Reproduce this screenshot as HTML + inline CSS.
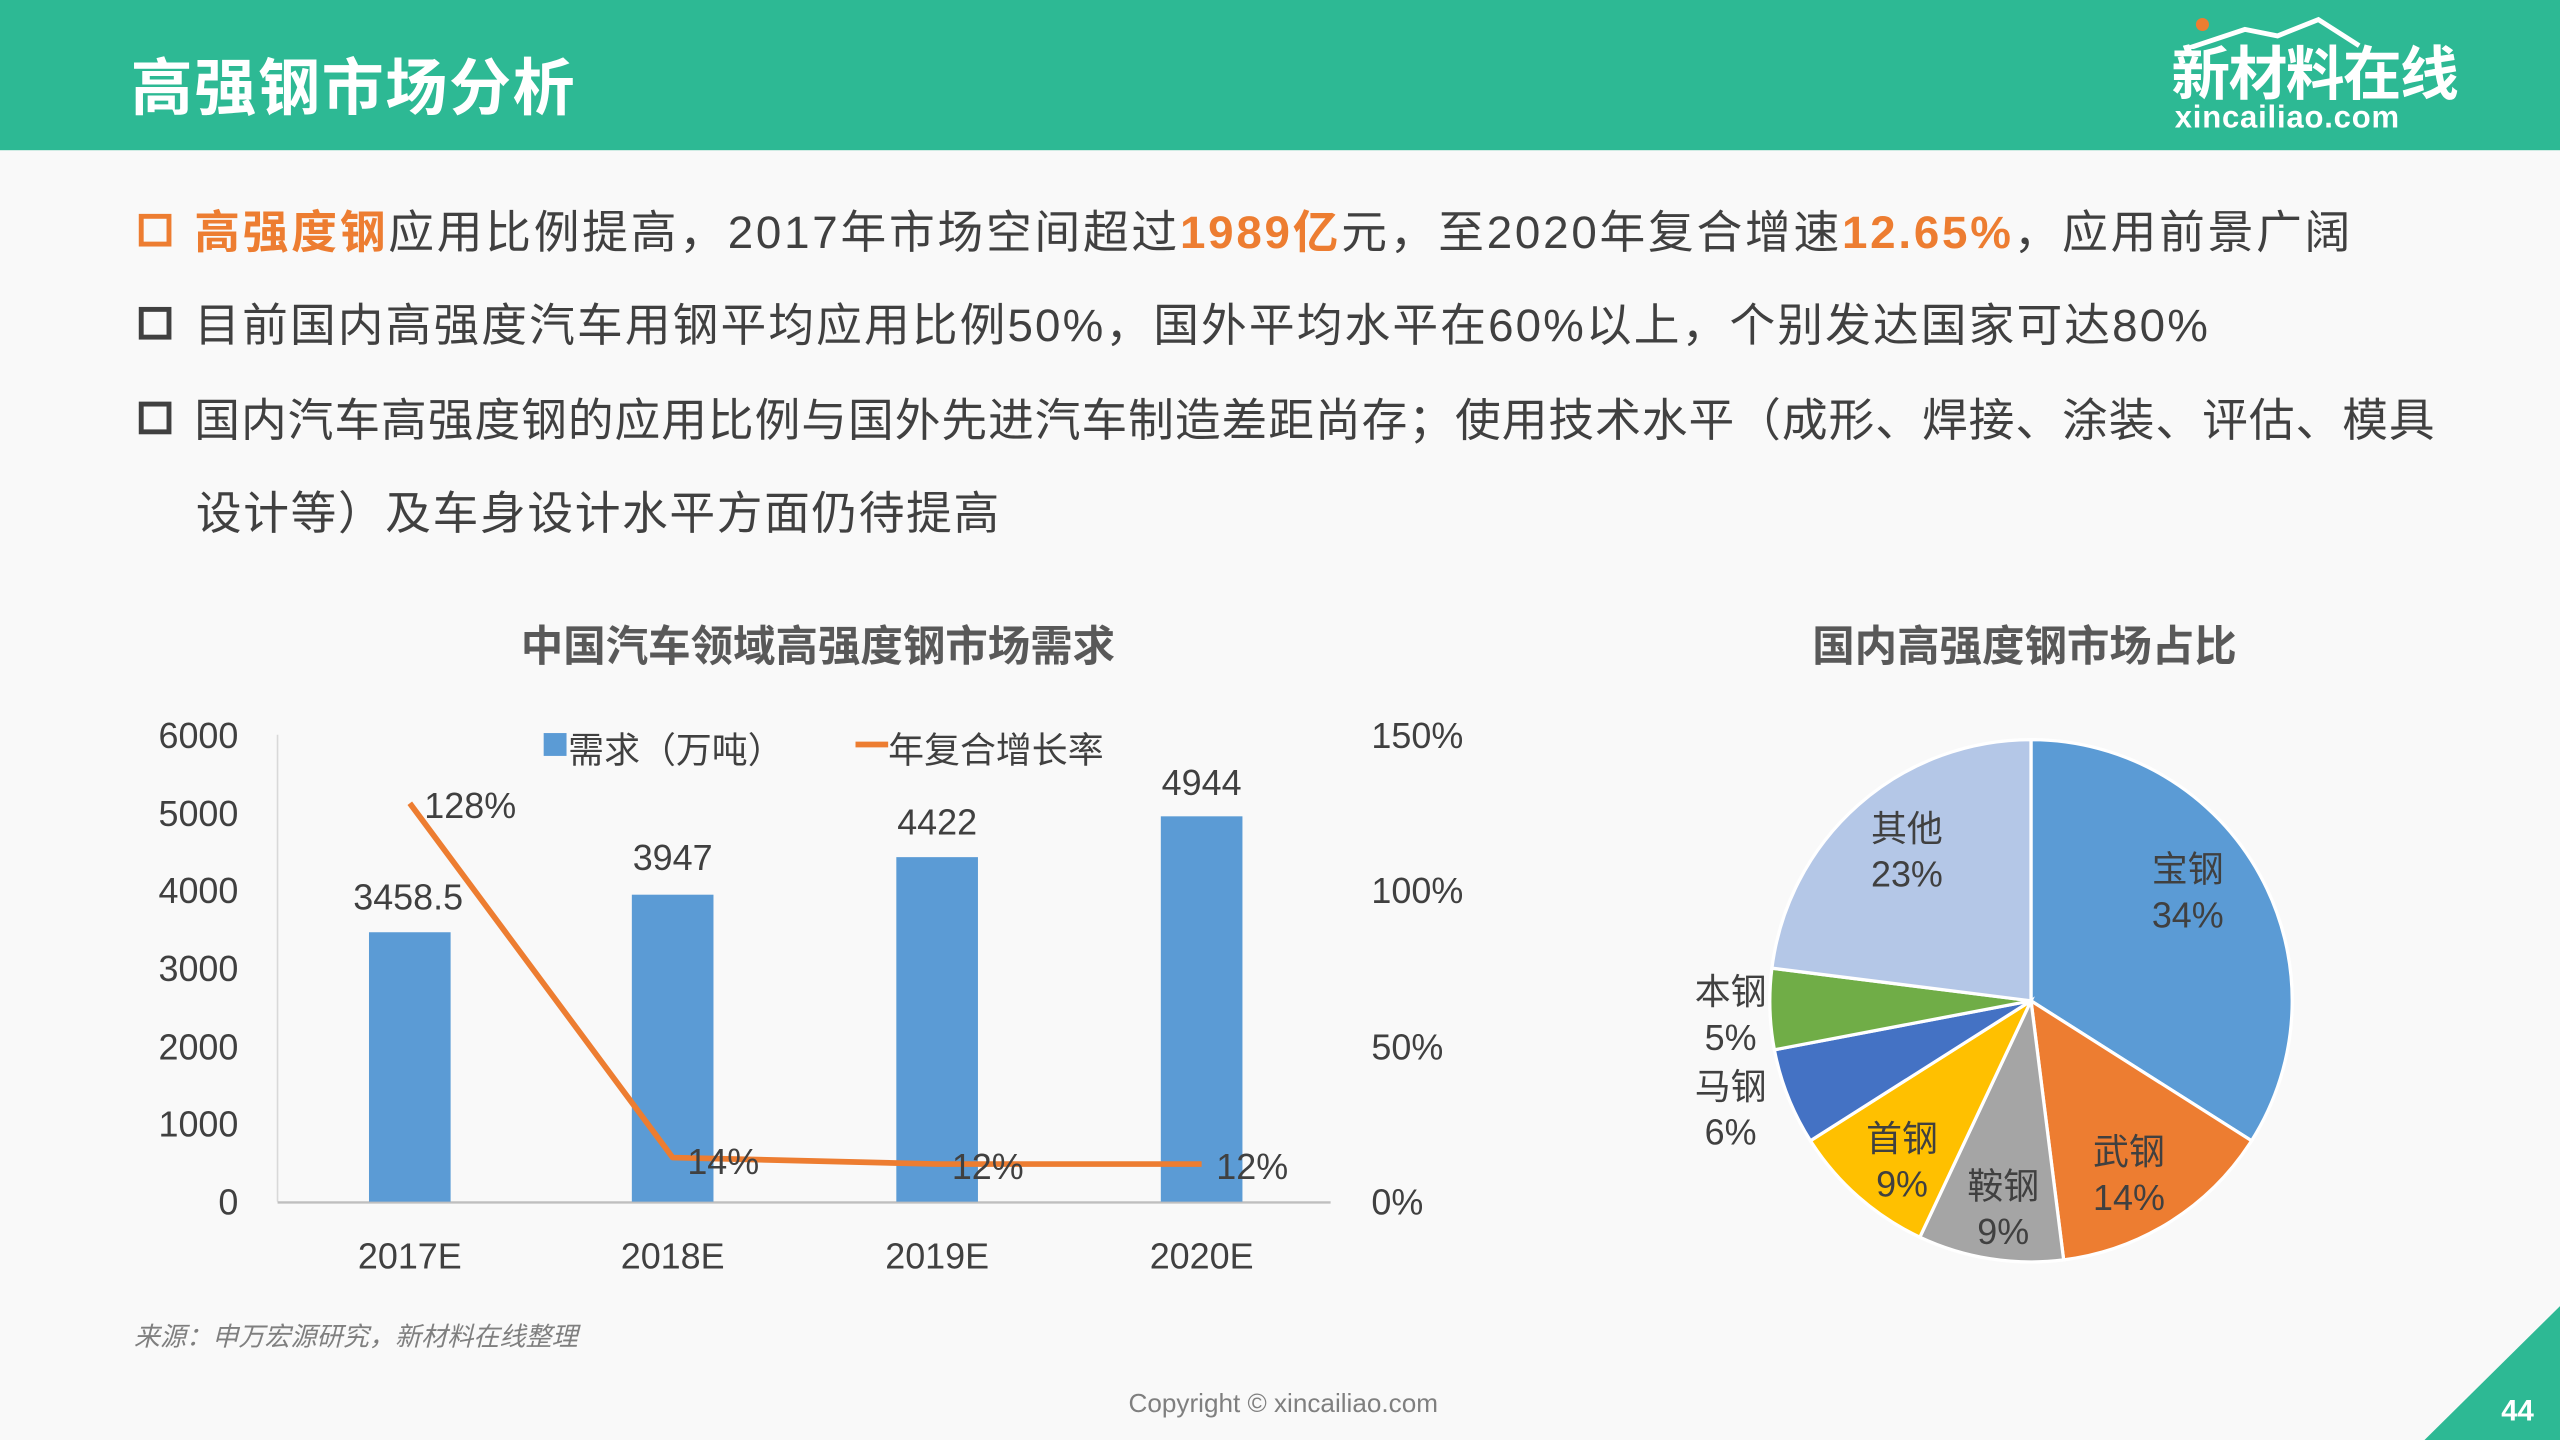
<!DOCTYPE html>
<html><head><meta charset="utf-8">
<style>
html,body{margin:0;padding:0;}
body{width:2560px;height:1440px;overflow:hidden;background:#f9f9f9;}
#s{position:absolute;left:0;top:0;width:1568px;height:882px;transform:scale(1.63265);transform-origin:0 0;font-family:"Liberation Sans","Noto Sans CJK SC",sans-serif;}
.hd{position:absolute;left:0;top:0;width:1568px;height:92px;background:#2db994;}
.t{position:absolute;left:80px;top:30px;font-size:38px;font-weight:bold;color:#fff;line-height:50px;letter-spacing:1px}
.lg1{position:absolute;left:1330px;top:24px;font-size:36px;font-weight:bold;color:#fff;line-height:44px;letter-spacing:-1px}
.lg2{position:absolute;left:1332px;top:62px;font-size:19px;font-weight:bold;color:#fff;letter-spacing:0.5px}
.b{position:absolute;left:85px;font-size:28px;color:#404040;line-height:36px;white-space:nowrap;letter-spacing:1.5px}
.b i{display:inline-block;width:14px;height:14px;border:3px solid #404040;margin-right:14px;vertical-align:1px;}
.o{color:#ed7d31;font-weight:bold}
.ct{position:absolute;font-size:26px;font-weight:bold;color:#595959;white-space:nowrap;transform:translateX(-50%);}
</style></head><body><div id="s">
<div class="hd"></div>
<div class="t">高强钢市场分析</div>
<svg style="position:absolute;left:1335px;top:8px" width="170" height="22"><circle cx="14" cy="7" r="4" fill="#ed7d31"/><polyline points="4,22 40,10 60,14 85,4 110,20" fill="none" stroke="#fff" stroke-width="3"/></svg>
<div class="lg1">新材料在线</div>
<div class="lg2">xincailiao.com</div>
<div class="b" style="top:125px;letter-spacing:1.7px"><i style="border-color:#ed7d31"></i><span class="o">高强度钢</span>应用比例提高，2017年市场空间超过<span class="o">1989亿</span>元，至2020年复合增速<span class="o">12.65%</span>，应用前景广阔</div>
<div class="b" style="top:182px;letter-spacing:1.3px"><i></i>目前国内高强度汽车用钢平均应用比例50%，国外平均水平在60%以上，个别发达国家可达80%</div>
<div class="b" style="top:240px;letter-spacing:0.6px"><i></i>国内汽车高强度钢的应用比例与国外先进汽车制造差距尚存；使用技术水平（成形、焊接、涂装、评估、模具</div>
<div class="b" style="top:297px;left:120px;letter-spacing:1px">设计等）及车身设计水平方面仍待提高</div>
<div class="ct" style="left:501px;top:376px">中国汽车领域高强度钢市场需求</div>
<div class="ct" style="left:1240px;top:376px">国内高强度钢市场占比</div>
<svg style="position:absolute;left:0;top:0" width="1568" height="882" font-family="Liberation Sans, Noto Sans CJK SC, sans-serif">
<g font-size="22" fill="#404040" text-anchor="end">
<text x="146" y="458">6000</text><text x="146" y="506">5000</text><text x="146" y="553">4000</text><text x="146" y="601">3000</text><text x="146" y="649">2000</text><text x="146" y="696">1000</text><text x="146" y="744">0</text>
</g>
<g font-size="22" fill="#404040">
<text x="840" y="458">150%</text><text x="840" y="553">100%</text><text x="840" y="649">50%</text><text x="840" y="744">0%</text>
</g>
<line x1="170" y1="450" x2="170" y2="736" stroke="#d9d9d9" stroke-width="1"/>
<line x1="170" y1="736.5" x2="815" y2="736.5" stroke="#bfbfbf" stroke-width="1.5"/>
<g fill="#5b9bd5">
<rect x="226" y="571" width="50" height="165"/>
<rect x="387" y="548" width="50" height="188"/>
<rect x="549" y="525" width="50" height="211"/>
<rect x="711" y="500" width="50" height="236"/>
</g>
<polyline points="251,492 412,709 574,713 736,713" fill="none" stroke="#ed7d31" stroke-width="3.5" stroke-linejoin="round"/>
<g font-size="22" fill="#404040" text-anchor="middle">
<text x="250" y="557">3458.5</text><text x="412" y="533">3947</text><text x="574" y="511">4422</text><text x="736" y="487">4944</text>
<text x="288" y="501">128%</text><text x="443" y="719">14%</text><text x="605" y="722">12%</text><text x="767" y="722">12%</text>
<text x="251" y="777">2017E</text><text x="412" y="777">2018E</text><text x="574" y="777">2019E</text><text x="736" y="777">2020E</text>
</g>
<rect x="333" y="449" width="14" height="14" fill="#5b9bd5"/>
<text x="348" y="467" font-size="22" fill="#404040">需求（万吨）</text>
<line x1="524" y1="456" x2="544" y2="456" stroke="#ed7d31" stroke-width="3.5"/>
<text x="544" y="467" font-size="22" fill="#404040">年复合增长率</text>
<g stroke="#fff" stroke-width="2">
<path d="M1244,613 L1244,453 A160,160 0 0 1 1379.1,698.7 Z" fill="#5b9bd5"/>
<path d="M1244,613 L1379.1,698.7 A160,160 0 0 1 1264,771.7 Z" fill="#ed7d31"/>
<path d="M1244,613 L1264,771.7 A160,160 0 0 1 1175.9,757.8 Z" fill="#a5a5a5"/>
<path d="M1244,613 L1175.9,757.8 A160,160 0 0 1 1108.9,698.7 Z" fill="#ffc000"/>
<path d="M1244,613 L1108.9,698.7 A160,160 0 0 1 1086.8,643 Z" fill="#4472c4"/>
<path d="M1244,613 L1086.8,643 A160,160 0 0 1 1085.3,593 Z" fill="#70ad47"/>
<path d="M1244,613 L1085.3,593 A160,160 0 0 1 1244,453 Z" fill="#b4c7e7"/>
</g>
<g font-size="22" fill="#404040" text-anchor="middle">
<text x="1340" y="540">宝钢</text><text x="1340" y="568">34%</text>
<text x="1304" y="713">武钢</text><text x="1304" y="741">14%</text>
<text x="1227" y="734">鞍钢</text><text x="1227" y="762">9%</text>
<text x="1165" y="705">首钢</text><text x="1165" y="733">9%</text>
<text x="1060" y="673">马钢</text><text x="1060" y="701">6%</text>
<text x="1060" y="615">本钢</text><text x="1060" y="643">5%</text>
<text x="1168" y="515">其他</text><text x="1168" y="543">23%</text>
</g>
<text x="82" y="824" font-size="16" font-style="italic" fill="#7f7f7f">来源：申万宏源研究，新材料在线整理</text>
<text x="786" y="865" font-size="16" fill="#7f7f7f" text-anchor="middle">Copyright © xincailiao.com</text>
<polygon points="1485,882 1568,800 1568,882" fill="#2db994"/>
<text x="1542" y="870" font-size="18" font-weight="bold" fill="#fff" text-anchor="middle">44</text>
</svg>
</div></body></html>
